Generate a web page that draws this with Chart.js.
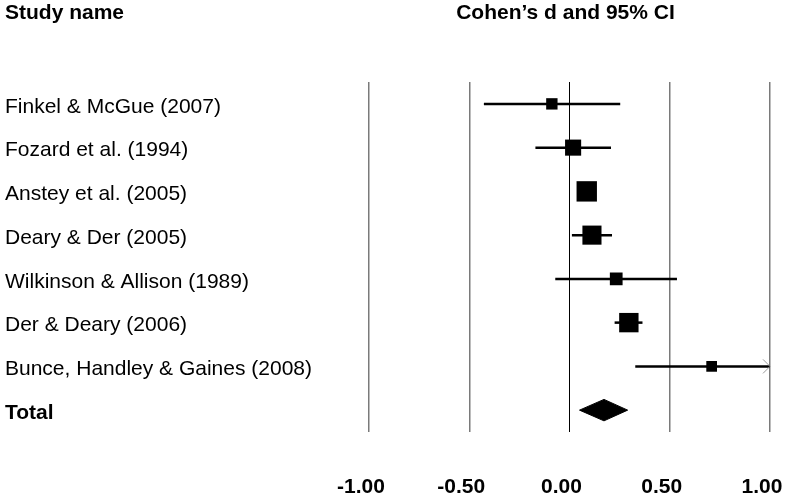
<!DOCTYPE html>
<html>
<head>
    <title>Forest plot</title>
    <script src="https://cdn.jsdelivr.net/npm/chart.js"></script>
    <style>
        body {
            margin: 0;
            background-color: #fff;
        }
        .container {
            width: 788px;
            height: 500px;
        }
    </style>
</head>
<body>
    <div class="container">
        <canvas id="forestChart" width="788" height="500"></canvas>
    </div>

    <script>
        // data
        const studies = [
            'Finkel & McGue (2007)',
            'Fozard et al. (1994)',
            'Anstey et al. (2005)',
            'Deary & Der (2005)',
            'Wilkinson & Allison (1989)',
            'Der & Deary (2006)',
            'Bunce, Handley & Gaines (2008)'
        ];
        const effects = [-0.088, 0.018, 0.086, 0.112, 0.233, 0.296, 0.709];
        const lower   = [-0.427, -0.170, 0.050, 0.012, -0.071, 0.225, 0.328];
        const upper   = [0.253, 0.207, 0.120, 0.212, 0.536, 0.364, 1.090];
        const weights = [7.1, 14.2, 22.8, 20.0, 8.9, 20.6, 6.3]; // relative weight, %

        const totalLabel = 'Total';
        const totalEffect = [0.172];
        const totalCI = [0.050, 0.290];

        const xTicks = [-1.00, -0.50, 0.00, 0.50, 1.00];
        const headerLeft = 'Study name';
        const headerRight = 'Cohen\u2019s d and 95% CI';

        const FONT = '"Liberation Sans", Arial, sans-serif';
        const rows = studies.map((s, i) => i + 1);
        const totalRow = studies.length + 1;
        const rowLabels = studies.concat([totalLabel]);
        const diamondHalf = 0.245;

        // one line per confidence interval
        const ciSets = studies.map((s, i) => ({
            type: 'line',
            data: [{ x: lower[i], y: rows[i] }, { x: upper[i], y: rows[i] }],
            borderColor: '#000',
            borderWidth: 2.5,
            pointRadius: 0,
            clip: 0,
            order: 2
        }));

        const boxSet = {
            type: 'scatter',
            data: effects.map((e, i) => ({ x: e, y: rows[i] })),
            pointStyle: 'rect',
            pointRadius: weights.map(w => 4.27 * Math.sqrt(w) / Math.SQRT2),
            backgroundColor: '#000',
            borderColor: '#000',
            borderWidth: 0,
            order: 1
        };

        const diamondSet = {
            type: 'line',
            data: [
                { x: totalCI[0], y: totalRow },
                { x: totalEffect[0], y: totalRow - diamondHalf },
                { x: totalCI[1], y: totalRow },
                { x: totalEffect[0], y: totalRow + diamondHalf },
                { x: totalCI[0], y: totalRow }
            ],
            borderColor: '#000',
            borderWidth: 1,
            backgroundColor: '#000',
            fill: 'shape',
            pointRadius: 0,
            order: 1
        };

        // headers above the plot
        const headerPlugin = {
            id: 'headers',
            afterDraw(chart) {
                const { ctx, chartArea } = chart;
                ctx.save();
                ctx.font = 'bold 21px ' + FONT;
                ctx.fillStyle = '#000';
                ctx.textBaseline = 'middle';
                ctx.textAlign = 'left';
                ctx.fillText(headerLeft, 5, 13);
                ctx.textAlign = 'center';
                ctx.fillText(headerRight, (chartArea.left + chartArea.right) / 2 - 4, 13);
                ctx.restore();
            }
        };

        // open arrow where a CI runs past the axis
        const arrowPlugin = {
            id: 'ciArrows',
            afterDatasetsDraw(chart) {
                const { ctx } = chart;
                const xs = chart.scales.x, ys = chart.scales.y;
                ctx.save();
                ctx.strokeStyle = '#999';
                ctx.lineWidth = 1;
                upper.forEach((hi, i) => {
                    if (hi <= xs.max) return;
                    const px = xs.getPixelForValue(xs.max);
                    const py = ys.getPixelForValue(rows[i]);
                    ctx.beginPath();
                    ctx.moveTo(px - 7, py - 7);
                    ctx.lineTo(px, py);
                    ctx.lineTo(px - 7, py + 7);
                    ctx.stroke();
                });
                ctx.restore();
            }
        };

        const ctx = document.getElementById('forestChart').getContext('2d');
        new Chart(ctx, {
            type: 'scatter',
            data: { datasets: [boxSet, diamondSet].concat(ciSets) },
            plugins: [headerPlugin, arrowPlugin],
            options: {
                responsive: false,
                animation: false,
                events: [],
                layout: { padding: { left: 5, right: 18, top: 82, bottom: 0 } },
                plugins: {
                    legend: { display: false },
                    tooltip: { enabled: false }
                },
                scales: {
                    x: {
                        type: 'linear',
                        min: -1,
                        max: 1,
                        afterFit: s => {
                            s.height = 68;
                            s.paddingLeft = 0;
                            s.paddingRight = 0;
                        },
                        afterBuildTicks: s => { s.ticks = xTicks.map(v => ({ value: v })); },
                        border: { display: false },
                        grid: {
                            drawTicks: false,
                            color: c => c.tick && c.tick.value === 0 ? '#000' : '#7a7a7a',
                            lineWidth: c => c.tick && c.tick.value === 0 ? 1 : 1.5
                        },
                        ticks: {
                            padding: 43,
                            labelOffset: -8,
                            color: '#000',
                            font: { family: FONT, size: 21, weight: 'bold' },
                            callback: v => v.toFixed(2)
                        }
                    },
                    y: {
                        type: 'linear',
                        reverse: true,
                        min: 0.5,
                        max: totalRow + 0.5,
                        afterFit: s => {
                            s.width = 364;
                            s.paddingTop = 0;
                            s.paddingBottom = 0;
                        },
                        afterBuildTicks: s => { s.ticks = rowLabels.map((l, i) => ({ value: i + 1 })); },
                        border: { display: false },
                        grid: { display: false },
                        ticks: {
                            crossAlign: 'far',
                            labelOffset: 3,
                            color: '#000',
                            font: c => ({
                                family: FONT,
                                size: 21,
                                weight: c.tick && c.tick.value === totalRow ? 'bold' : 'normal'
                            }),
                            callback: v => rowLabels[v - 1]
                        }
                    }
                }
            }
        });
    </script>
</body>
</html>
